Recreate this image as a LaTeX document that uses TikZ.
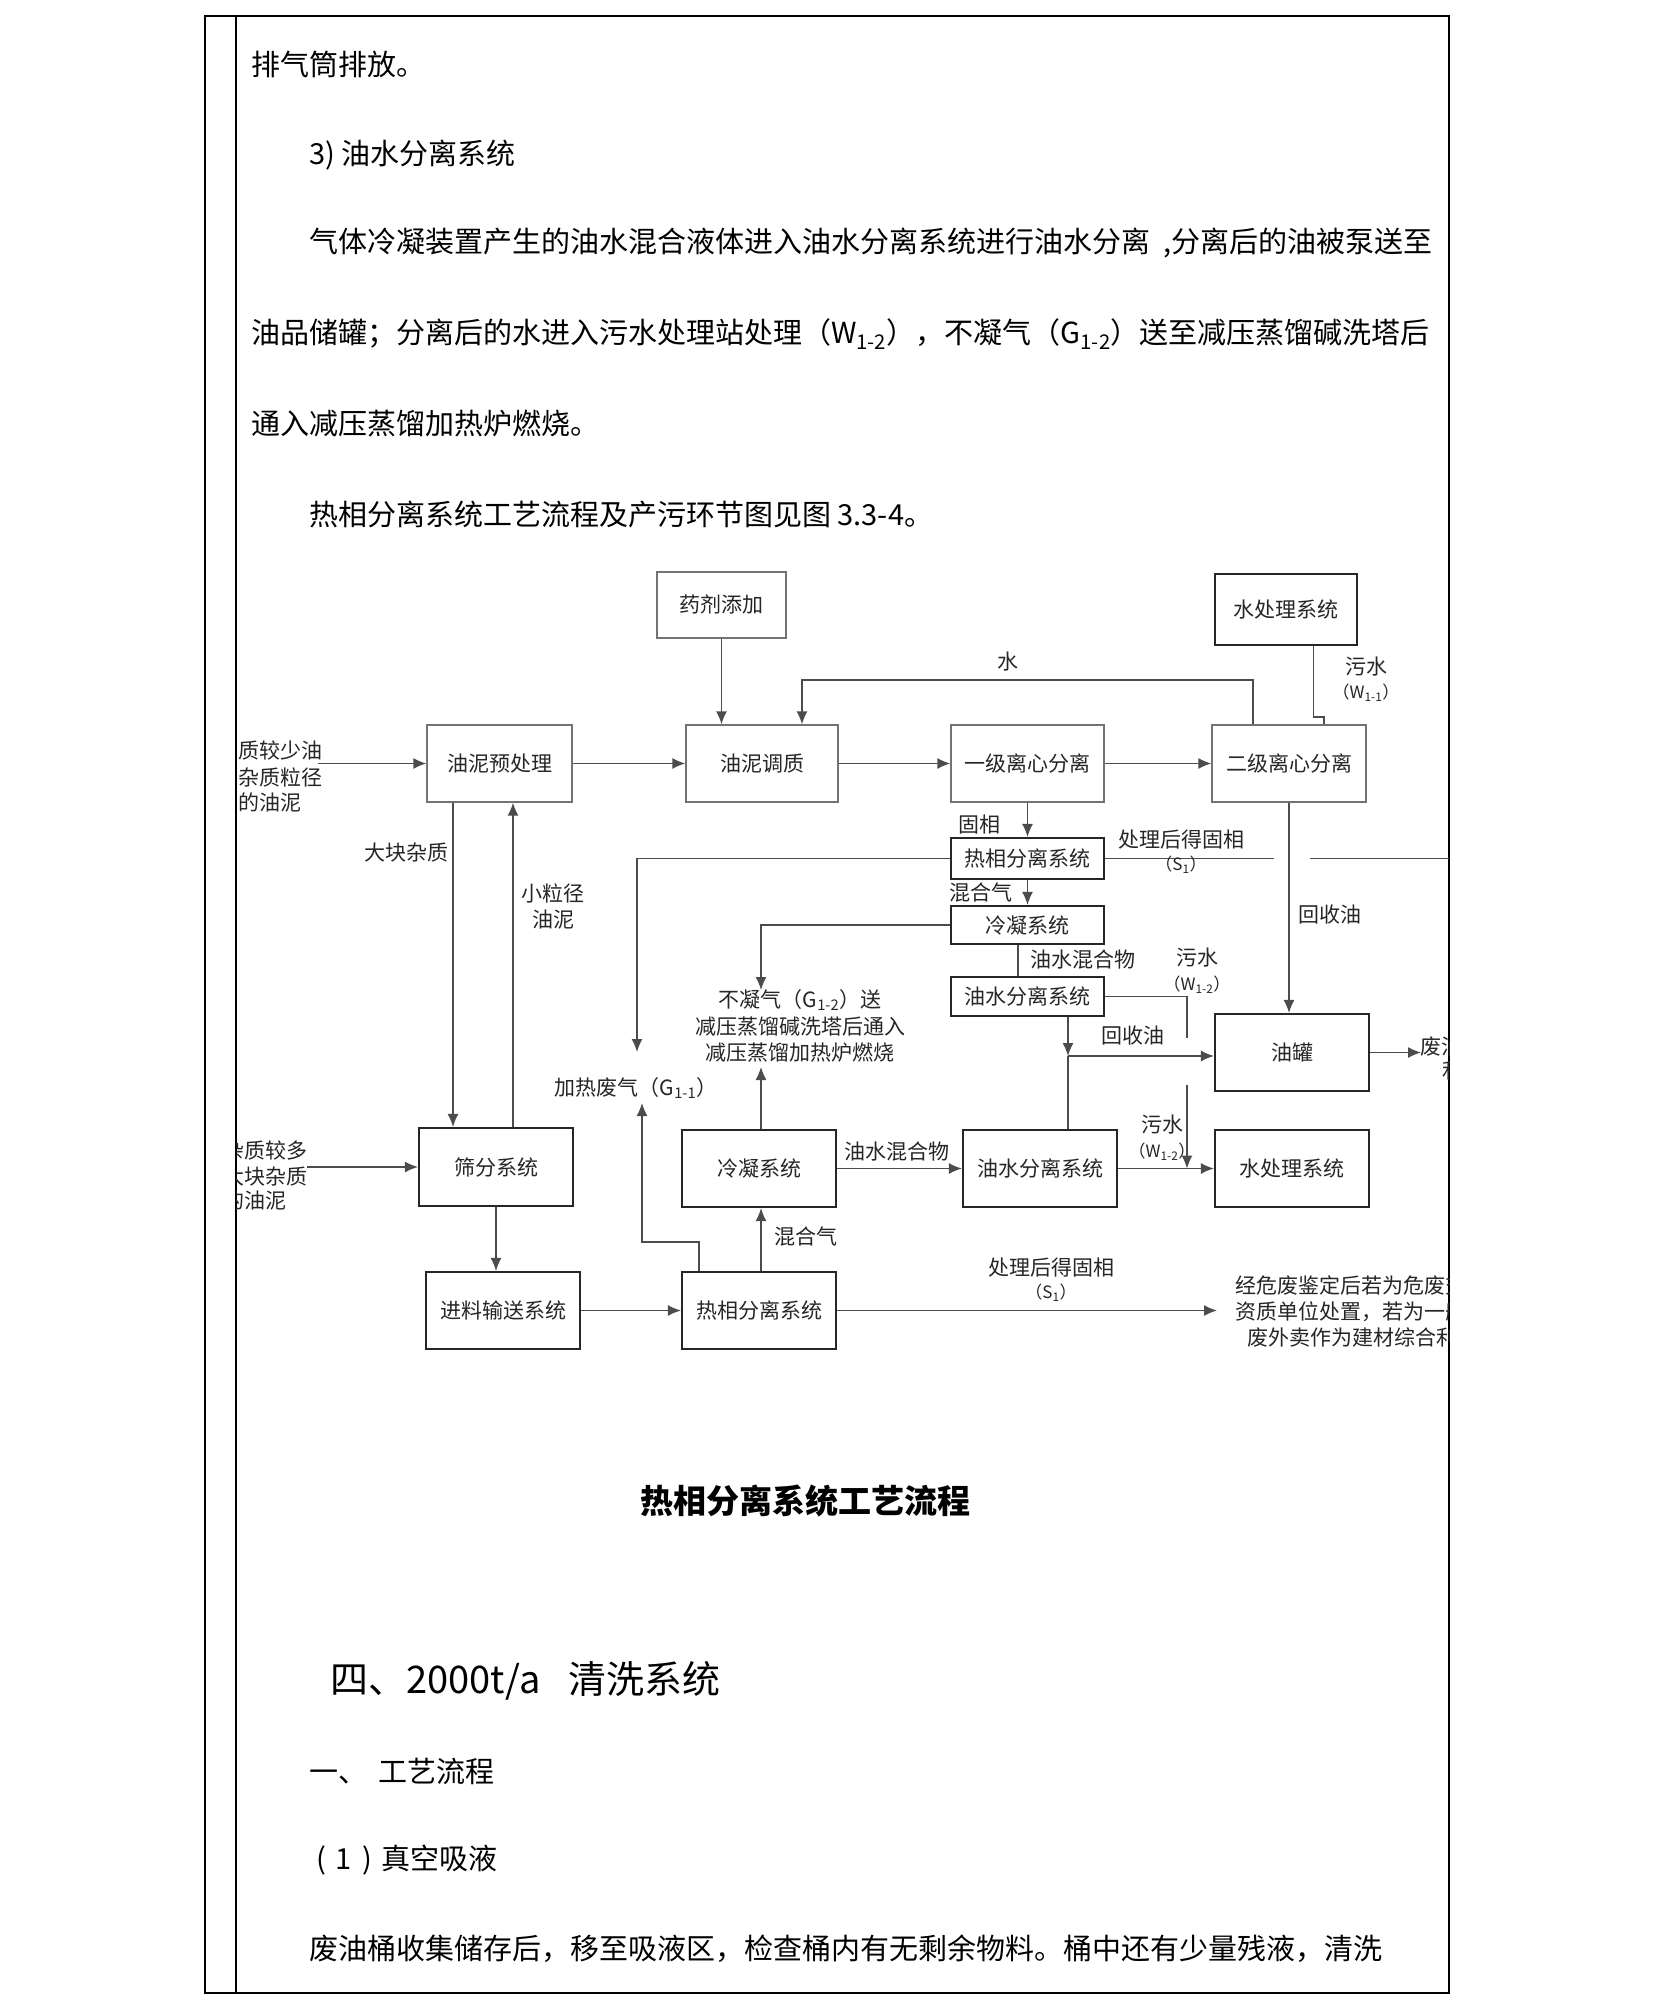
\documentclass[tikz,border=0pt]{standalone}
\usepackage{fontspec}
\setmainfont{Noto Sans CJK SC}
\usetikzlibrary{arrows.meta}
\XeTeXlinebreaklocale "zh"
\XeTeXlinebreakskip=0pt plus 4pt
\newcommand\bodyfs{\fontsize{29}{36}\selectfont}
\newcommand\dfs{\fontsize{21}{26}\selectfont}
\newcommand\sfs{\fontsize{17}{20}\selectfont}
\tikzset{
  lbox/.style={draw=black!55, line width=1.4pt, inner sep=0pt, font=\dfs, text=black!85},
  dbox/.style={draw=black!85, line width=2.2pt, inner sep=0pt, font=\dfs, text=black!85},
  conn/.style={draw=black!70, line width=1.4pt},
  arr/.style={conn, -{Latex[length=13pt,width=11pt]}},
  lbl/.style={font=\dfs, text=black!85, inner sep=0pt, align=center},
  slbl/.style={font=\sfs, text=black!85, inner sep=0pt},
  lft/.style={font=\dfs, text=black!85, inner sep=0pt, anchor=west},
  body/.style={font=\bodyfs, anchor=west, inner sep=0pt},
}
\begin{document}
\begin{tikzpicture}[x=1pt,y=-1pt]
\fill[white] (0,0) rectangle (1654,2009);
\useasboundingbox (0,0) rectangle (1654,2009);
% page frame
\draw[line width=1.5pt] (205,16) rectangle (1449,1993);
\draw[line width=1.5pt] (236,16) -- (236,1993);

% body text
\node[body] (t1) at (251,64) {排气筒排放。};
\node[body] (t2) at (309,155) {3) 油水分离系统};
\node[body] (t3) at (309,243) {\makebox[1123pt][s]{气体冷凝装置产生的油水混合液体进入油水分离系统进行油水分离 ,分离后的油被泵送至}};
\node[body] (t4) at (251,334) {\makebox[1181pt][s]{油品储罐；分离后的水进入污水处理站处理（W\textsubscript{1-2}），不凝气（G\textsubscript{1-2}）送至减压蒸馏碱洗塔后}};
\node[body] (t5) at (251,424) {通入减压蒸馏加热炉燃烧。};
\node[body] (t6) at (309,514) {热相分离系统工艺流程及产污环节图见图 3.3-4。};

\node[font=\fontsize{33}{40}\selectfont\bfseries, inner sep=0pt] (cap) at (805,1501) {热相分离系统工艺流程};
\node[body, font=\fontsize{38}{46}\selectfont] (h4) at (330,1681) {四、2000t/a\hspace{28pt}清洗系统};
\node[body] (h5) at (309,1771) {一、\, 工艺流程};
\node[body] (h6) at (316,1860) {(\hspace{10pt}1\hspace{10pt})\hspace{10pt}真空吸液};
\node[body] (t7) at (309,1949) {\makebox[1079pt][s]{废油桶收集储存后，移至吸液区，检查桶内有无剩余物料。桶中还有少量残液，清洗}};

\begin{scope}
\clip (236,16) rectangle (1449,1993);
% boxes
\node[lbox, minimum width=129pt, minimum height=66pt] (yj) at (721.5,605) {药剂添加};
\node[dbox, minimum width=142pt, minimum height=71pt] (sc1) at (1286,609.5) {水处理系统};
\node[lbox, minimum width=145pt, minimum height=77pt] (yyc) at (499.5,763.5) {油泥预处理};
\node[lbox, minimum width=152pt, minimum height=77pt] (ytz) at (762,763.5) {油泥调质};
\node[lbox, minimum width=153pt, minimum height=77pt] (lx1) at (1027.5,763.5) {一级离心分离};
\node[lbox, minimum width=154pt, minimum height=77pt] (lx2) at (1289,763.5) {二级离心分离};
\node[dbox, minimum width=153pt, minimum height=41pt] (rx1) at (1027.5,858.5) {热相分离系统};
\node[dbox, minimum width=153pt, minimum height=38pt] (ln1) at (1027.5,925) {冷凝系统};
\node[dbox, minimum width=153pt, minimum height=39pt] (ys1) at (1027.5,996.5) {油水分离系统};
\node[dbox, minimum width=154pt, minimum height=77pt] (yg) at (1292,1052.5) {油罐};
\node[dbox, minimum width=154pt, minimum height=78pt] (sf) at (496,1167) {筛分系统};
\node[dbox, minimum width=154pt, minimum height=77pt] (ln2) at (759,1168.5) {冷凝系统};
\node[dbox, minimum width=154pt, minimum height=77pt] (ys2) at (1040,1168.5) {油水分离系统};
\node[dbox, minimum width=154pt, minimum height=77pt] (sc2) at (1292,1168.5) {水处理系统};
\node[dbox, minimum width=154pt, minimum height=77pt] (jl) at (503,1310.5) {进料输送系统};
\node[dbox, minimum width=154pt, minimum height=77pt] (rx2) at (759,1310.5) {热相分离系统};

% helper coordinates
\coordinate (in1) at (318,763.5);
\coordinate (in2) at (307,1167);
\coordinate (xa) at (453,0);
\coordinate (xb) at (513,0);
\coordinate (w1) at (1253,680);
\coordinate (w2) at (802,680);
\coordinate (p1) at (1324,717);
\coordinate (p2) at (1313.5,717);
\coordinate (c1018) at (1018,0);
\coordinate (j) at (1068,1056);
\coordinate (k1) at (1187,996.5);
\coordinate (k2) at (1187,1038);
\coordinate (k3) at (1187,1085);
\coordinate (h1) at (1274,858.5);
\coordinate (h2) at (1310,858.5);
\coordinate (h3) at (1449,858.5);
\coordinate (g1) at (637,1052);
\coordinate (g2) at (761,990);
\coordinate (g3) at (761,1067);
\coordinate (q1) at (699,1242);
\coordinate (q2) at (642,1242);
\coordinate (q3) at (642,1103);
\coordinate (oe) at (1421,1052.5);
\coordinate (se) at (1217,1310.5);

% connectors
\draw[arr] (in1) -- (yyc.west);
\draw[arr] (yyc.east) -- (ytz.west);
\draw[arr] (ytz.east) -- (lx1.west);
\draw[arr] (lx1.east) -- (lx2.west);
\draw[arr] (yj.south) -- (yj.south |- ytz.north);
\draw[arr] (lx2.north -| w1) -- (w1) -- (w2) -- (ytz.north -| w2);
\draw[conn] (lx2.north -| p1) -- (p1) -- (p2) -- (sc1.south -| p2);
\draw[arr] (lx1.south) -- (rx1.north);
\draw[arr] (rx1.south) -- (ln1.north);
\draw[conn] (ln1.south -| c1018) -- (ys1.north -| c1018);
\draw[arr] (ys1.south -| j) -- (j);
\draw[arr] (j) -- (yg.west |- j);
\draw[conn] (ys2.north -| j) -- (j);
\draw[conn] (ys1.east) -- (k1) -- (k2);
\draw[arr] (k3) -- (k3 |- ys2.east);
\draw[arr] (lx2.south) -- (lx2.south |- yg.north);
\draw[conn] (rx1.east) -- (h1);
\draw[conn] (h2) -- (h3);
\draw[arr] (rx1.west) -| (g1);
\draw[arr] (ln1.west) -| (g2);
\draw[arr] (yg.east) -- (oe);
\draw[arr] (in2) -- (sf.west);
\draw[arr] (yyc.south -| xa) -- (sf.north -| xa);
\draw[arr] (sf.north -| xb) -- (yyc.south -| xb);
\draw[arr] (sf.south) -- (sf.south |- jl.north);
\draw[arr] (jl.east) -- (rx2.west);
\draw[arr] (rx2.north -| g3) -- (ln2.south -| g3);
\draw[arr] (ln2.north -| g3) -- (g3);
\draw[arr] (rx2.north -| q1) -- (q1) -- (q2) -- (q3);
\draw[arr] (ln2.east) -- (ys2.west);
\draw[arr] (ys2.east) -- (sc2.west);
\draw[arr] (rx2.east) -- (se);

% labels
\node[lbl] (l1) at (1008,662) {水};
\node[lbl] (l2) at (1366,667) {污水};
\node[slbl] (l3) at (1366,693) {（W\textsubscript{1-1}）};
\node[lbl] (l4) at (979,825) {固相};
\node[lbl] (l5) at (981,893) {混合气};
\node[lbl] (l6) at (1181,840) {处理后得固相};
\node[slbl] (l7) at (1181,865) {（S\textsubscript{1}）};
\node[lbl] (l8) at (1330,915) {回收油};
\node[lbl] (l9) at (1083,960) {油水混合物};
\node[lbl] (l10) at (1197,958) {污水};
\node[slbl] (l11) at (1197,985) {（W\textsubscript{1-2}）};
\node[lbl] (l12) at (1133,1036) {回收油};
\node[lbl] (l13) at (1162,1125) {污水};
\node[slbl] (l14) at (1162,1152) {（W\textsubscript{1-2}）};
\node[lbl] (l15) at (406,853) {大块杂质};
\node[lbl] (l16) at (553,893) {小粒径};
\node[lbl] (l17) at (553,920) {油泥};
\node[lbl] (l18) at (636,1088) {加热废气（G\textsubscript{1-1}）};
\node[lbl] (l19) at (800,1000) {不凝气（G\textsubscript{1-2}）送};
\node[lbl] (l20) at (800,1027) {减压蒸馏碱洗塔后通入};
\node[lbl] (l21) at (800,1053) {减压蒸馏加热炉燃烧};
\node[lbl] (l22) at (806,1237) {混合气};
\node[lbl] (l23) at (897,1152) {油水混合物};
\node[lbl] (l24) at (1051,1268) {处理后得固相};
\node[slbl] (l25) at (1051,1293) {（S\textsubscript{1}）};
\node[lft] (a1) at (238,750) {质较少油};
\node[lft] (a2) at (238,777) {杂质粒径};
\node[lft] (a3) at (238,802) {的油泥};
\node[lft] (b1) at (223,1150) {杂质较多};
\node[lft] (b2) at (223,1177) {大块杂质};
\node[lft] (b3) at (223,1200) {的油泥};
\node[lft] (r1) at (1420,1047) {废油外售};
\node[lft] (r2) at (1442,1071) {利用};
\node[lft] (s1) at (1235,1285) {经危废鉴定后若为危废交由};
\node[lft] (s2) at (1235,1312) {资质单位处置，若为一般固};
\node[lft] (s3) at (1247,1338) {废外卖作为建材综合利用};
\end{scope}
\end{tikzpicture}
\end{document}
